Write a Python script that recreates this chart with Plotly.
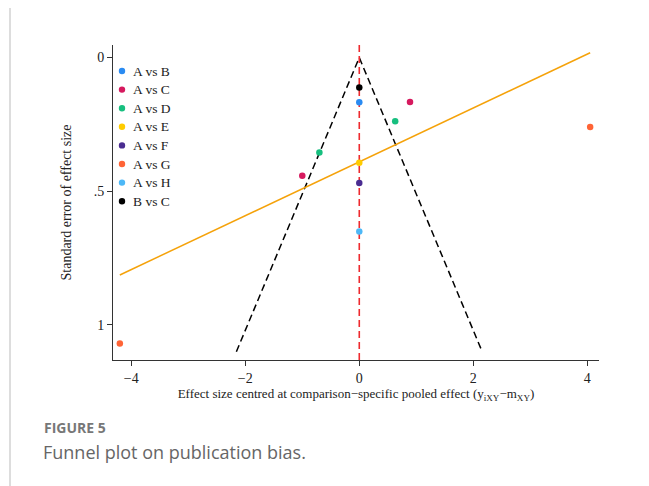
import plotly.graph_objects as go

# ---- data ----
comparisons = ["A vs B", "A vs C", "A vs D", "A vs E", "A vs F", "A vs G", "A vs H", "B vs C"]
colors = ["#2A8BF2", "#D6195E", "#17BF7F", "#FFCC00", "#4A2C91", "#FF6436", "#4DB8F7", "#000000"]
effect_x = {
    "A vs B": [0.0],
    "A vs C": [0.89, -1.0],
    "A vs D": [0.63, -0.70],
    "A vs E": [0.0],
    "A vs F": [0.0],
    "A vs G": [4.05, -4.2],
    "A vs H": [0.0],
    "B vs C": [0.0],
}
se_y = {
    "A vs B": [0.167],
    "A vs C": [0.166, 0.442],
    "A vs D": [0.238, 0.355],
    "A vs E": [0.393],
    "A vs F": [0.469],
    "A vs G": [0.26, 1.069],
    "A vs H": [0.65],
    "B vs C": [0.112],
}
funnel_x = [-2.156, 0.0, 2.156]
funnel_y = [1.10, 0.0, 1.10]
reg_x = [-4.2, 4.05]
reg_y = [0.813, -0.018]
x_ticks = [-4, -2, 0, 2, 4]
x_ticklabels = ["\u22124", "\u22122", "0", "2", "4"]
y_ticks = [0, 0.5, 1]
y_ticklabels = ["0", ".5", "1"]

serif = "Liberation Serif, Times New Roman, serif"

# page body has an 8px margin: plot area spans page x 113..599, y 45..360
W, H = 641, 478
L, R, T, B = 105, 50, 37, 126
PW, PH = W - L - R, H - T - B


def px(xp):
    return (xp - 8 - L) / PW


def py(yp):
    return (H - B + 8 - yp) / PH


fig = go.Figure()

fig.add_trace(go.Scatter(x=funnel_x, y=funnel_y, mode="lines",
                         line=dict(color="black", width=1.5, dash="7px,4px"),
                         showlegend=False, hoverinfo="skip"))
fig.add_trace(go.Scatter(x=[0, 0], y=[-0.047, 1.131], mode="lines",
                         line=dict(color="#EE2A2F", width=1.6, dash="7px,4px"),
                         showlegend=False, hoverinfo="skip"))
fig.add_trace(go.Scatter(x=reg_x, y=reg_y, mode="lines",
                         line=dict(color="#F5A20A", width=1.5),
                         showlegend=False, hoverinfo="skip"))

for name, col in zip(comparisons, colors):
    fig.add_trace(go.Scatter(x=effect_x[name], y=se_y[name], mode="markers", name=name,
                             showlegend=False,
                             marker=dict(color=col, size=6.5, line=dict(width=0))))

# legend drawn as layout items (compact Stata-like legend)
for i, (name, col) in enumerate(zip(comparisons, colors)):
    yy = 71 + 18.6 * i
    fig.add_shape(type="circle", xref="paper", yref="paper",
                  xsizemode="pixel", ysizemode="pixel",
                  xanchor=px(122), yanchor=py(yy), x0=-3.2, x1=3.2, y0=-3.2, y1=3.2,
                  fillcolor=col, line=dict(width=0))
    fig.add_annotation(text=name, xref="paper", yref="paper", x=px(131), y=py(yy),
                       xanchor="left", yanchor="middle", showarrow=False,
                       font=dict(family=serif, size=13.5, color="#222"))

fig.update_layout(
    width=W, height=H,
    margin=dict(l=L, r=R, t=T, b=B),
    paper_bgcolor="white", plot_bgcolor="white",
    font=dict(family=serif, size=13, color="#222"),
    showlegend=False,
    xaxis=dict(range=[-4.32, 4.205], tickvals=x_ticks, ticktext=x_ticklabels,
               showgrid=False, zeroline=False, showline=True, linecolor="#333", linewidth=1,
               ticks="outside", ticklen=5, tickcolor="#333",
               tickfont=dict(family=serif, size=14, color="#222"),
               title=dict(text="Effect size centred at comparison\u2212specific pooled effect (y<sub>iXY</sub>\u2212m<sub>XY</sub>)",
                          font=dict(family=serif, size=13, color="#222"), standoff=2)),
    yaxis=dict(range=[1.131, -0.047], tickvals=y_ticks, ticktext=y_ticklabels,
               showgrid=False, zeroline=False, showline=True, linecolor="#333", linewidth=1,
               ticks="outside", ticklen=5, tickcolor="#333",
               tickfont=dict(family=serif, size=14, color="#222"),
               title=dict(text="Standard error of effect size",
                          font=dict(family=serif, size=14, color="#222"), standoff=18)),
)

# figure border line on the left
fig.add_shape(type="line", xref="paper", yref="paper",
              x0=px(10), x1=px(10), y0=py(0), y1=py(486),
              line=dict(color="#BBBBBB", width=1))

fig.add_annotation(text="<b>FIGURE 5</b>", xref="paper", yref="paper",
                   x=px(42), y=py(427), xanchor="left", yanchor="middle",
                   showarrow=False, font=dict(family="Open Sans", size=14, color="#777"))
fig.add_annotation(text="Funnel plot on publication bias.", xref="paper", yref="paper",
                   x=px(41), y=py(452), xanchor="left", yanchor="middle",
                   showarrow=False, font=dict(family="Open Sans", size=18, color="#666"))

fig.write_html("out.html")
